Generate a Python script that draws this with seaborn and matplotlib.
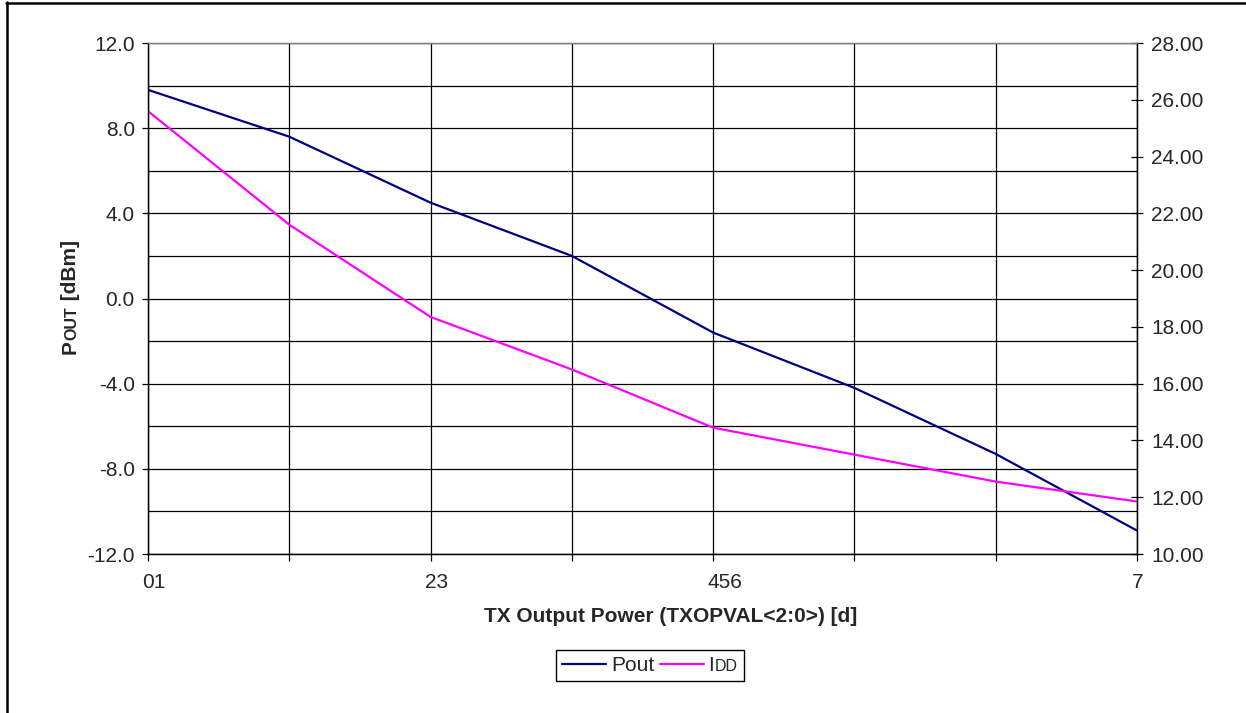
import matplotlib
matplotlib.use("Agg")
import matplotlib.pyplot as plt
import matplotlib.transforms as mtransforms
from matplotlib.font_manager import FontProperties
from matplotlib.lines import Line2D
import pandas as pd
import seaborn as sns

# data
tx_setting = [0, 1, 2, 3, 4, 5, 6, 7]
x_tick_labels = ["01", "", "23", "", "456", "", "", "7"]
pout_dbm = [9.8, 7.6, 4.5, 2.0, -1.6, -4.2, -7.3, -10.9]
idd_ma = [25.6, 21.6, 18.35, 16.5, 14.45, 13.5, 12.55, 11.85]

left_ticks = [-12, -8, -4, 0, 4, 8, 12]
left_minor = [-10, -6, -2, 2, 6, 10]
right_ticks = [10, 12, 14, 16, 18, 20, 22, 24, 26, 28]

FONT = "Liberation Sans"
W, H = 1246, 713

sns.set_style("white")
plt.rcParams["font.family"] = [FONT, "DejaVu Sans"]

df = pd.DataFrame({"setting": tx_setting, "pout": pout_dbm, "idd": idd_ma})

fig = plt.figure(figsize=(W / 100, H / 100), dpi=100)
ax = fig.add_axes([148 / W, 1 - 554 / H, (1137 - 148) / W, (554 - 43) / H])
ax2 = ax.twinx()

sns.lineplot(data=df, x="setting", y="pout", ax=ax, color="#000080", linewidth=1.6)
sns.lineplot(data=df, x="setting", y="idd", ax=ax2, color="#FF00FF", linewidth=1.6)

# axes ranges / ticks
ax.set_xlim(0, 7)
ax.set_ylim(-12, 12)
ax2.set_ylim(10, 28)
ax.set_xticks(tx_setting)
ax.set_xticklabels(x_tick_labels, ha="left")
ax.set_yticks(left_ticks)
ax.set_yticklabels([f"{v:.1f}" for v in left_ticks])
ax.set_yticks(left_minor, minor=True)
ax2.set_yticks(right_ticks)
ax2.set_yticklabels([f"{v:.2f}" for v in right_ticks])

ax.tick_params(axis="x", direction="out", length=5, width=0.9, color="black",
               labelsize=15, pad=9, bottom=True)
ax.tick_params(axis="y", which="major", direction="out", length=4.5, width=0.9,
               color="black", labelsize=15, pad=5, left=True)
ax.tick_params(axis="y", which="minor", length=0)
ax2.tick_params(axis="y", direction="inout", length=8, width=0.9, color="black",
                labelsize=15, pad=6, right=True)

shift = mtransforms.ScaledTranslation(-4 / 72, 0, fig.dpi_scale_trans)
for lab in ax.xaxis.get_majorticklabels():
    lab.set_transform(lab.get_transform() + shift)

# grid
ax.grid(True, which="both", axis="y", color="black", linewidth=0.9)
ax.grid(True, which="major", axis="x", color="black", linewidth=0.9)
ax.set_axisbelow(True)

for a in (ax, ax2):
    for side in ("left", "right", "bottom"):
        a.spines[side].set_color("black")
        a.spines[side].set_linewidth(0.9)
    a.spines["top"].set_color("#808080")
    a.spines["top"].set_linewidth(0.9)
    a.set_ylabel("")

ax.set_xlabel("TX Output Power (TXOPVAL<2:0>) [d]", fontsize=15, fontweight="bold")
ax.xaxis.set_label_coords(0.528, -0.104)

# legend
leg = fig.legend(
    handles=[ax.lines[0], ax2.lines[0]],
    labels=["Pout", "I    "],
    ncol=2,
    loc="center",
    bbox_to_anchor=(650 / W, 1 - 665.5 / H),
    fontsize=15,
    frameon=True,
    fancybox=False,
    edgecolor="black",
    framealpha=1,
    handlelength=2.1,
    handletextpad=0.25,
    columnspacing=0.3,
    borderpad=0.3,
)
leg.get_frame().set_linewidth(1.0)

# figure border (left and top only)
fig.add_artist(Line2D([7 / W, 7 / W], [0, 1 - 2 / H], transform=fig.transFigure,
                      color="black", linewidth=1.8))
fig.add_artist(Line2D([6 / W, 1], [1 - 3 / H, 1 - 3 / H], transform=fig.transFigure,
                      color="black", linewidth=1.8))

fig.canvas.draw()
renderer = fig.canvas.get_renderer()
ident = mtransforms.IdentityTransform()


def text_width(s, size, weight="normal"):
    fp = FontProperties(family=FONT, size=size, weight=weight)
    w, h, d = renderer.get_text_width_height_descent(s, fp, ismath=False)
    return w, d


# y label with small caps "OUT"
pieces = [("P", 15), ("OUT", 11.5), (" [dBm]", 15)]
widths = [text_width(s, sz, "bold")[0] for s, sz in pieces]
y_pos = (H - 297) - sum(widths) / 2
for (s, sz), w in zip(pieces, widths):
    fig.text(76, y_pos, s, fontsize=sz, fontweight="bold", rotation=90,
             rotation_mode="anchor", ha="left", va="baseline", transform=ident)
    y_pos += w

# legend label small caps "DD" (drawn above the legend frame)
idd_text = leg.get_texts()[1]
bb = idd_text.get_window_extent(renderer)
w_i, _ = text_width("I", 15)
_, desc = text_width("lp", 15)
fig.text(bb.x0 + w_i, bb.y0 + desc, "DD", fontsize=11.5, ha="left", va="baseline",
         transform=ident, zorder=10)

fig.savefig("out.png", dpi=100)
